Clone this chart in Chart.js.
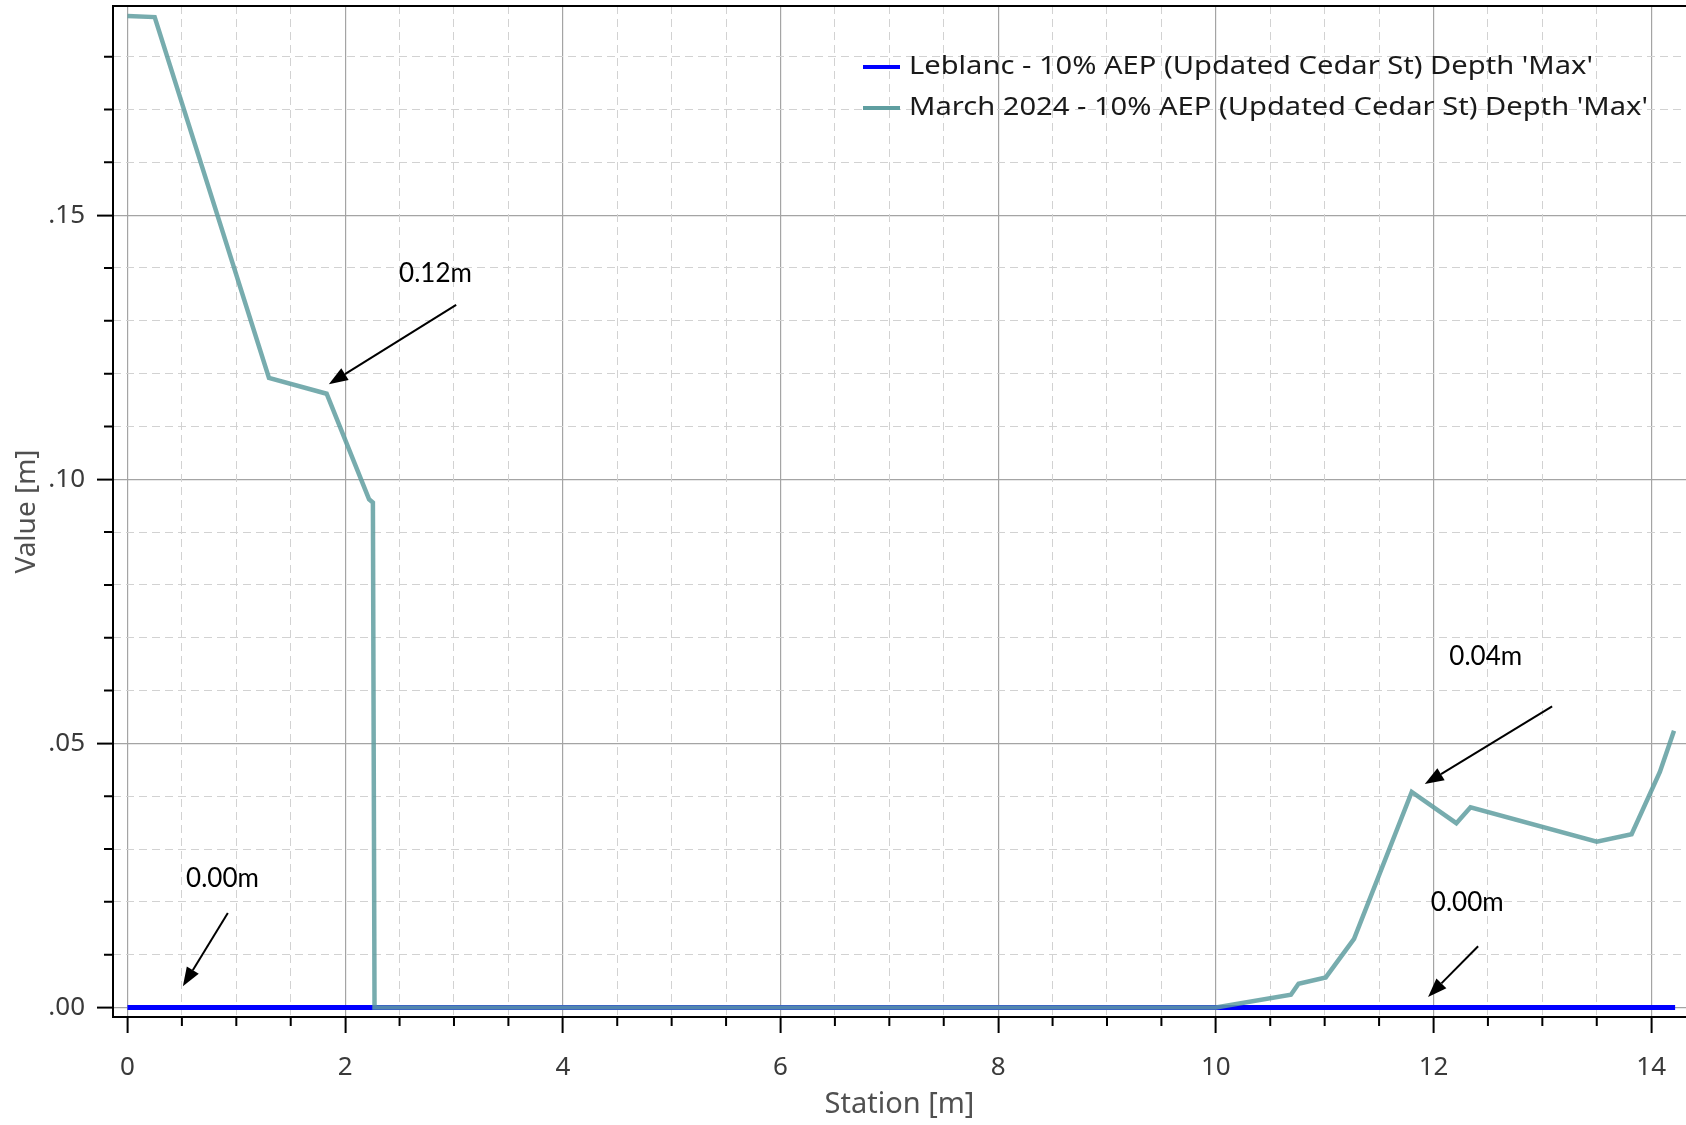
<!DOCTYPE html>
<html>
<head>
<meta charset="utf-8">
<script src="https://cdn.jsdelivr.net/npm/chart.js@4.4.1/dist/chart.umd.min.js"></script>
<style>
  html, body { margin: 0; padding: 0; background: #fff; }
  #wrap { width: 1686px; height: 1125px; position: relative; }
</style>
</head>
<body>
<div id="wrap"><canvas id="depthChart"></canvas></div>
<script>
// series labels + colours
const seriesLabels = [
    "Leblanc - 10% AEP (Updated Cedar St) Depth 'Max'",
    "March 2024 - 10% AEP (Updated Cedar St) Depth 'Max'"
];
const seriesColors = ['#0000ff', '#5f9ea0'];

// Leblanc - stays at zero along the whole section
const stationLeblanc = [0, 14.22];
const depthLeblanc = [0, 0];

// March 2024
const stationMarch = [0, 0.25, 1.30, 1.83, 2.22, 2.255, 2.27, 10.0, 10.69, 10.76, 11.01, 11.27, 11.80, 12.21, 12.34, 13.50, 13.82, 14.08, 14.21];
const depthMarch = [0.1877, 0.1875, 0.1192, 0.1162, 0.0962, 0.0956, 0, 0, 0.0024, 0.0045, 0.0057, 0.0130, 0.0408, 0.0349, 0.0379, 0.0314, 0.0328, 0.0446, 0.0524];

// axis ticks
const xTickValues = [0, 2, 4, 6, 8, 10, 12, 14];
const yTickValues = [0, 0.05, 0.10, 0.15];
const yTickLabels = ['.00', '.05', '.10', '.15'];

// callouts (label position, arrow tail, arrow tip) in data units
const noteText = ['0.12m', '0.00m', '0.04m', '0.00m'];
const noteAt = [[2.83, 0.139], [0.873, 0.0244], [12.48, 0.0665], [12.31, 0.0199]];
const arrowFrom = [[3.02, 0.133], [0.922, 0.0179], [13.09, 0.057], [12.41, 0.0116]];
const arrowTo = [[1.85, 0.118], [0.509, 0.0040], [11.92, 0.0423], [11.95, 0.0020]];

const X_MIN = -0.133, X_MAX = 14.32;
const Y_MIN = -0.0018, Y_MAX = 0.1896;

const isMultiple = (v, step) => Math.abs(v / step - Math.round(v / step)) < 1e-6;

const toPoints = (xs, ys) => xs.map((x, i) => ({ x: x, y: ys[i] }));

// short tick marks for the minor scales + top frame line
const frameExtras = {
    id: 'frameExtras',
    afterDraw(chart) {
        const { ctx, chartArea, scales } = chart;
        ctx.save();
        ctx.strokeStyle = '#000';
        ctx.lineWidth = 2;
        ctx.beginPath();
        scales.xMinor.ticks.forEach(t => {
            if (isMultiple(t.value, 2)) return;
            const px = scales.xMinor.getPixelForValue(t.value);
            ctx.moveTo(px, chartArea.bottom);
            ctx.lineTo(px, chartArea.bottom + 9);
        });
        scales.yMinor.ticks.forEach(t => {
            if (isMultiple(t.value, 0.05)) return;
            const py = scales.yMinor.getPixelForValue(t.value);
            ctx.moveTo(chartArea.left - 9, py);
            ctx.lineTo(chartArea.left, py);
        });
        ctx.moveTo(chartArea.left, chartArea.top);
        ctx.lineTo(chartArea.right, chartArea.top);
        ctx.stroke();
        ctx.restore();
    }
};

// legend drawn inside the plot, top right
const insideLegend = {
    id: 'insideLegend',
    afterDraw(chart) {
        const { ctx, chartArea } = chart;
        const x0 = chartArea.left + 750;
        const y0 = chartArea.top + 61;
        ctx.save();
        ctx.font = '26px "Noto Sans"';
        ctx.textBaseline = 'middle';
        ctx.textAlign = 'left';
        seriesLabels.forEach((label, i) => {
            const y = y0 + i * 41;
            ctx.strokeStyle = seriesColors[i];
            ctx.lineWidth = 4;
            ctx.beginPath();
            ctx.moveTo(x0, y);
            ctx.lineTo(x0 + 37, y);
            ctx.stroke();
            ctx.fillStyle = '#1a1a1a';
            // text in the source is a bit wider than Noto Sans
            ctx.save();
            ctx.translate(x0 + 46, y);
            ctx.scale(1.12, 1);
            ctx.fillText(label, 0, 0);
            ctx.restore();
        });
        ctx.restore();
    }
};

// text callouts with arrows
const callouts = {
    id: 'callouts',
    afterDraw(chart) {
        const { ctx, scales: { x, y } } = chart;
        ctx.save();
        ctx.fillStyle = '#000';
        ctx.strokeStyle = '#000';
        ctx.lineWidth = 2;
        ctx.font = '26px Lato';
        ctx.textAlign = 'center';
        ctx.textBaseline = 'middle';
        noteText.forEach((t, i) => {
            ctx.fillText(t, x.getPixelForValue(noteAt[i][0]), y.getPixelForValue(noteAt[i][1]));
            const x0 = x.getPixelForValue(arrowFrom[i][0]), y0 = y.getPixelForValue(arrowFrom[i][1]);
            const x1 = x.getPixelForValue(arrowTo[i][0]), y1 = y.getPixelForValue(arrowTo[i][1]);
            const a = Math.atan2(y1 - y0, x1 - x0);
            const head = 19, half = 7;
            const bx = x1 - head * Math.cos(a), by = y1 - head * Math.sin(a);
            ctx.beginPath();
            ctx.moveTo(x0, y0);
            ctx.lineTo(bx, by);
            ctx.stroke();
            ctx.beginPath();
            ctx.moveTo(x1, y1);
            ctx.lineTo(bx + half * Math.sin(a), by - half * Math.cos(a));
            ctx.lineTo(bx - half * Math.sin(a), by + half * Math.cos(a));
            ctx.closePath();
            ctx.fill();
        });
        ctx.restore();
    }
};

const tickFont = { family: '"Noto Sans"', size: 26 };

new Chart(document.getElementById('depthChart'), {
    type: 'line',
    data: {
        datasets: [
            {
                label: seriesLabels[0],
                data: toPoints(stationLeblanc, depthLeblanc),
                borderColor: seriesColors[0],
                borderWidth: 5,
                pointRadius: 0,
                tension: 0,
                order: 1
            },
            {
                label: seriesLabels[1],
                data: toPoints(stationMarch, depthMarch),
                borderColor: 'rgba(95,158,160,0.85)',
                borderWidth: 4.5,
                pointRadius: 0,
                tension: 0,
                order: 0
            }
        ]
    },
    options: {
        responsive: true,
        maintainAspectRatio: false,
        animation: false,
        layout: { padding: { top: 6, right: 0, left: 0, bottom: 0 } },
        plugins: {
            legend: { display: false },
            tooltip: { enabled: false }
        },
        scales: {
            x: {
                type: 'linear',
                position: 'bottom',
                min: X_MIN,
                max: X_MAX,
                afterBuildTicks: s => { s.ticks = xTickValues.map(v => ({ value: v })); },
                afterFit: s => { s.height = 108; s.paddingLeft = 0; s.paddingRight = 0; },
                ticks: {
                    includeBounds: false,
                    font: tickFont,
                    color: '#3a3a3a',
                    padding: 19,
                    maxRotation: 0,
                    autoSkip: false,
                    callback: v => String(v)
                },
                grid: { color: '#a4a4a4', lineWidth: 1.2, tickLength: 16, tickColor: '#000', tickWidth: 2 },
                border: { display: true, color: '#000', width: 2 },
                title: { display: true, text: 'Station [m]', font: { family: '"Noto Sans"', size: 29 }, color: '#505050', padding: { top: 0, bottom: 3 } }
            },
            y: {
                type: 'linear',
                position: 'left',
                min: Y_MIN,
                max: Y_MAX,
                afterBuildTicks: s => { s.ticks = yTickValues.map(v => ({ value: v })); },
                afterFit: s => { s.width = 113; s.paddingTop = 0; s.paddingBottom = 0; },
                ticks: {
                    includeBounds: false,
                    font: tickFont,
                    color: '#3a3a3a',
                    padding: 12,
                    autoSkip: false,
                    callback: (v, i) => yTickLabels[i]
                },
                grid: { color: '#a4a4a4', lineWidth: 1.2, tickLength: 16, tickColor: '#000', tickWidth: 2 },
                border: { display: true, color: '#000', width: 2 },
                title: { display: true, text: 'Value [m]', font: { family: '"Noto Sans"', size: 28 }, color: '#505050', padding: { top: 10, bottom: 0 } }
            },
            xMinor: {
                type: 'linear',
                position: 'bottom',
                min: X_MIN,
                max: X_MAX,
                afterFit: s => { s.height = 0; },
                ticks: { stepSize: 0.5, includeBounds: false, display: false },
                grid: {
                    drawTicks: false,
                    lineWidth: 1,
                    borderDash: [8, 5],
                    color: ctx => isMultiple(ctx.tick.value, 2) ? 'rgba(0,0,0,0)' : '#d2d2d2'
                },
                border: { display: false, dash: [8, 5] }
            },
            yMinor: {
                type: 'linear',
                position: 'left',
                min: Y_MIN,
                max: Y_MAX,
                afterFit: s => { s.width = 0; },
                ticks: { stepSize: 0.01, includeBounds: false, display: false },
                grid: {
                    drawTicks: false,
                    lineWidth: 1,
                    borderDash: [8, 5],
                    color: ctx => isMultiple(ctx.tick.value, 0.05) ? 'rgba(0,0,0,0)' : '#d2d2d2'
                },
                border: { display: false, dash: [8, 5] }
            }
        }
    },
    plugins: [frameExtras, insideLegend, callouts]
});
</script>
</body>
</html>
